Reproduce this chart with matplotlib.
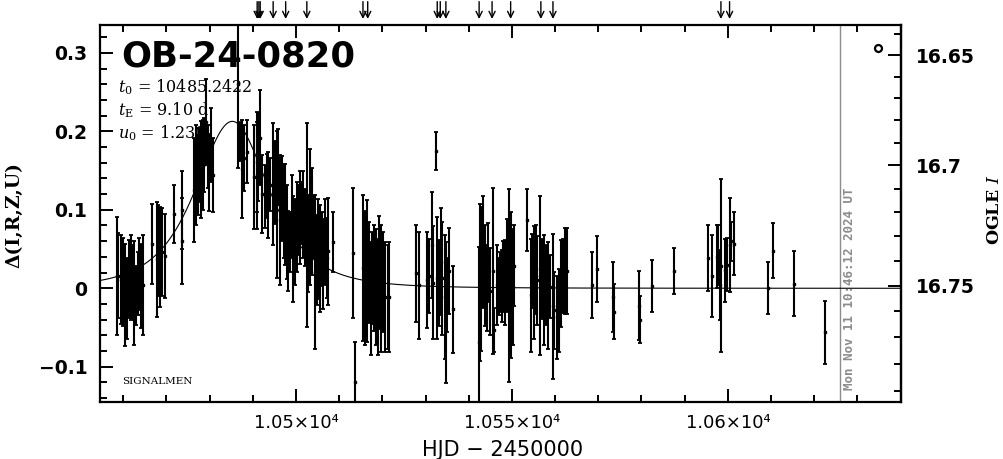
import numpy as np
import matplotlib
matplotlib.use('Agg')
import matplotlib.pyplot as plt
from matplotlib.ticker import MultipleLocator, FuncFormatter, FixedLocator

plt.rcParams['mathtext.fontset'] = 'dejavuserif'

# ---- model / header values ----
event_name = 'OB-24-0820'
t0 = 10485.2422
tE = 9.10
u0 = 1.23
I_base = 16.751
f_s = 0.31
now_hjd = 10626.0
now_text = 'Mon Nov 11 10:46:12 2024 UT'

# ---- photometry (HJD-2450000, delta mag, error) ----
hjd = [10458.5, 10458.8, 10459.4, 10459.9, 10460.4, 10460.8, 10461.4, 10461.8, 10462.2, 10462.5,
       10462.9, 10463.3, 10463.7, 10464.1, 10464.6,
       10466.6, 10467.7, 10468.1, 10468.5, 10468.9, 10469.7,
       10471.7, 10473.5, 10473.7,
       10476.4, 10476.8, 10477.2, 10477.6, 10478.0, 10478.4, 10478.8, 10479.2, 10479.5, 10479.9,
       10480.3, 10480.7,
       10486.5, 10487.0, 10487.4, 10488.0, 10488.6, 10490.3, 10490.9, 10491.0, 10491.3, 10491.7,
       10492.1, 10492.7, 10493.2, 10493.6, 10494.0, 10494.7, 10495.1, 10495.5, 10495.9, 10496.3,
       10496.7, 10497.1, 10497.5, 10497.8, 10498.2, 10498.6, 10499.0, 10499.4, 10499.8, 10500.2,
       10500.5, 10500.9, 10501.3, 10501.7, 10502.1, 10502.5, 10502.8, 10503.2, 10503.6, 10504.0,
       10504.4, 10504.8, 10505.2, 10505.6, 10506.0, 10506.3, 10506.7, 10507.1, 10507.5, 10508.6,
       10513.3, 10513.7,
       10515.5, 10516.0, 10516.5, 10516.9, 10517.4, 10517.7, 10518.1, 10518.5, 10518.9, 10519.3,
       10519.7, 10520.2, 10520.6, 10521.2, 10521.6,
       10527.8, 10528.5, 10530.4, 10530.8, 10531.4, 10531.8, 10532.4, 10532.6, 10533.0, 10533.6,
       10533.9, 10534.4, 10534.7, 10535.0, 10535.5, 10536.4,
       10542.4, 10542.5, 10542.8, 10543.4, 10543.8, 10544.2, 10544.5, 10544.9, 10545.6, 10545.9,
       10546.5, 10546.9, 10547.3, 10547.7, 10548.0, 10548.4, 10548.8, 10549.4, 10549.8, 10550.2,
       10550.5,
       10553.6, 10554.4, 10554.7, 10555.1, 10555.5, 10555.9, 10556.5, 10556.9, 10557.5, 10557.9,
       10558.4, 10558.8, 10559.4, 10559.8, 10560.4, 10560.8, 10561.3, 10561.8, 10562.3, 10562.7,
       10568.6, 10569.7, 10573.5, 10573.6, 10579.5, 10579.6, 10582.5, 10587.5,
       10595.5, 10596.4, 10597.5, 10597.8, 10598.2, 10598.5, 10599.4, 10599.8, 10600.4, 10600.8,
       10601.5,
       10609.4, 10610.4, 10615.4, 10622.4]

dmag = [0.016, 0.016, 0.011, 0.008, -0.009, -0.013, 0.012, 0.014, 0.008, -0.006,
        -0.009, 0.006, 0.018, 0.003, 0.004,
        0.057, 0.037, 0.048, 0.040, 0.046, 0.041,
        0.095, 0.100, 0.060,
        0.125, 0.144, 0.144, 0.157, 0.151, 0.157, 0.170, 0.212, 0.168, 0.147,
        0.183, 0.144,
        0.260, 0.187, 0.152, 0.166, 0.174, 0.142, 0.161, 0.144, 0.167, 0.192,
        0.120, 0.117, 0.130, 0.119, 0.132, 0.133, 0.135, 0.107, 0.155, 0.087,
        0.114, 0.098, 0.094, 0.072, 0.047, 0.059, 0.091, 0.050, 0.059, 0.078,
        0.087, 0.090, 0.096, 0.094, 0.078, 0.081, 0.057, 0.091, 0.085, 0.078,
        0.021, 0.036, 0.050, 0.038, 0.050, 0.031, 0.059, 0.038, 0.047, 0.059,
        0.045, -0.120,
        0.026, 0.013, 0.022, 0.020, -0.013, 0.013, 0.013, 0.002, -0.011, 0.020,
        0.000, 0.008, -0.011, -0.011, -0.011,
        0.019, 0.004, 0.011, 0.016, 0.055, 0.007, 0.175, 0.013, 0.007, 0.034,
        0.013, -0.011, -0.031, -0.009, 0.022, -0.027,
        -0.068, 0.007, 0.012, 0.046, 0.016, 0.000, 0.033, -0.004, 0.022, -0.053,
        0.004, 0.002, 0.008, 0.003, 0.015, 0.007, 0.029, 0.004, 0.004, 0.002,
        0.029,
        0.087, -0.009, 0.022, 0.007, 0.024, 0.010, 0.016, 0.012, -0.002, 0.004,
        -0.009, 0.002, -0.023, -0.028, -0.037, -0.028, 0.006, 0.016, 0.022, 0.022,
        0.004, 0.025, -0.011, -0.030, -0.022, -0.040, 0.003, 0.022,
        0.038, 0.016, 0.040, 0.042, 0.004, 0.029, 0.023, 0.030, 0.055, 0.060,
        0.057,
        0.000, 0.048, 0.006, -0.056]

derr = [0.075, 0.054, 0.057, 0.056, 0.065, 0.051, 0.050, 0.054, 0.047, 0.066,
        0.038, 0.040, 0.046, 0.054, 0.064,
        0.051, 0.073, 0.058, 0.064, 0.056, 0.054,
        0.037, 0.050, 0.055,
        0.066, 0.064, 0.051, 0.047, 0.062, 0.057, 0.047, 0.055, 0.040, 0.049,
        0.047, 0.047,
        0.107, 0.025, 0.062, 0.042, 0.040, 0.066, 0.064, 0.068, 0.056, 0.060,
        0.050, 0.040, 0.041, 0.055, 0.034, 0.078, 0.053, 0.094, 0.048, 0.083,
        0.054, 0.060, 0.064, 0.060, 0.051, 0.038, 0.053, 0.068, 0.055, 0.057,
        0.045, 0.059, 0.040, 0.055, 0.049, 0.130, 0.062, 0.087, 0.068, 0.040,
        0.098, 0.057, 0.064, 0.068, 0.047, 0.057, 0.055, 0.051, 0.068, 0.038,
        0.083, 0.052,
        0.093, 0.085, 0.091, 0.064, 0.072, 0.059, 0.068, 0.074, 0.074, 0.072,
        0.081, 0.064, 0.070, 0.066, 0.070,
        0.062, 0.068, 0.061, 0.047, 0.068, 0.072, 0.024, 0.078, 0.055, 0.068,
        0.072, 0.079, 0.090, 0.047, 0.055, 0.056,
        0.120, 0.100, 0.092, 0.071, 0.064, 0.055, 0.050, 0.055, 0.106, 0.028,
        0.051, 0.036, 0.038, 0.046, 0.045, 0.054, 0.059, 0.123, 0.093, 0.074,
        0.051,
        0.040, 0.072, 0.047, 0.072, 0.057, 0.057, 0.101, 0.051, 0.070, 0.051,
        0.068, 0.040, 0.092, 0.049, 0.053, 0.053, 0.055, 0.047, 0.055, 0.055,
        0.042, 0.042, 0.045, 0.035, 0.044, 0.030, 0.033, 0.029,
        0.042, 0.052, 0.040, 0.038, 0.045, 0.110, 0.040, 0.034, 0.060, 0.025,
        0.040,
        0.033, 0.035, 0.041, 0.040]

arrow_hjd = [10491.0, 10491.4, 10491.7, 10494.7, 10497.6, 10502.5, 10515.5, 10516.6,
             10532.7, 10533.4, 10534.7, 10542.4, 10545.4, 10549.7, 10556.7, 10559.5,
             10598.4, 10600.4]

ogle_major = [16.65, 16.70, 16.75]
ogle_minor = [16.64, 16.66, 16.67, 16.68, 16.69, 16.71, 16.72, 16.73, 16.74,
              16.76, 16.77, 16.78, 16.79]
ogle_labels = ['16.65', '16.7', '16.75']

x_range = (10454.6, 10640.1)
y_range = (-0.1445, 0.3354)

# ---- figure ----
fig = plt.figure(figsize=(10.04, 4.59), dpi=100)
ax = fig.add_axes([0.0996, 0.1248, 0.7978, 0.8207])
ax.set_xlim(*x_range)
ax.set_ylim(*y_range)

# header text (drawn under the data)
ax.text(0.027, 0.889, event_name, transform=ax.transAxes, fontsize=25.5,
        fontweight='bold', family='DejaVu Sans', va='baseline', ha='left', zorder=1)
ax.text(0.0225, 0.822, r'$t_0$ = %.4f' % t0, transform=ax.transAxes, fontsize=11.5,
        family='DejaVu Serif', va='baseline', ha='left', zorder=1)
ax.text(0.0225, 0.761, r'$t_{\rm E}$ = %.2f d' % tE, transform=ax.transAxes, fontsize=11.5,
        family='DejaVu Serif', va='baseline', ha='left', zorder=1)
ax.text(0.0225, 0.700, r'$u_0$ = %.3f' % u0, transform=ax.transAxes, fontsize=11.5,
        family='DejaVu Serif', va='baseline', ha='left', zorder=1)
ax.text(0.027, 0.046, 'SIGNALMEN', transform=ax.transAxes, fontsize=7.5,
        family='DejaVu Serif', va='baseline', ha='left', zorder=1)

# current time
ax.axvline(now_hjd, color='#8c8c8c', lw=1.0, zorder=1)
ax.text(0.936, 0.031, now_text, transform=ax.transAxes, rotation=90,
        ha='center', va='bottom', fontsize=9, family='DejaVu Sans Mono',
        fontweight='bold', color='#8c8c8c', zorder=1)

# model curve
tt = np.linspace(x_range[0], x_range[1], 3000)
uu = np.sqrt(u0 ** 2 + ((tt - t0) / tE) ** 2)
AA = (uu ** 2 + 2) / (uu * np.sqrt(uu ** 2 + 4))
ax.plot(tt, 2.5 * np.log10(AA), color='black', lw=0.8, zorder=2)

# data
ax.errorbar(hjd, dmag, yerr=derr, fmt='s', ms=1.8, color='black', ecolor='black',
            elinewidth=1.5, capsize=1.6, capthick=1.3, zorder=3)

# OGLE symbol
ax.plot([0.971], [0.938], 'o', mfc='none', mec='black', ms=5, mew=1.6,
        transform=ax.transAxes, clip_on=False)

# arrows at the top
for t in arrow_hjd:
    ax.annotate('', xy=(t, 1.016), xytext=(t, 1.062),
                xycoords=('data', 'axes fraction'), textcoords=('data', 'axes fraction'),
                arrowprops=dict(arrowstyle='->', lw=1.0, color='black',
                                mutation_scale=11, shrinkA=0, shrinkB=0),
                annotation_clip=False)

# axes styling
for s in ax.spines.values():
    s.set_linewidth(1.6)

ax.xaxis.set_major_locator(MultipleLocator(50))
ax.xaxis.set_minor_locator(MultipleLocator(10))
ax.xaxis.set_major_formatter(FuncFormatter(
    lambda v, p: ('%g' % (v / 1e4)) + '\u00d710\u2074'))
ax.tick_params(axis='x', which='both', direction='in', top=True, bottom=True, width=1.4)
ax.tick_params(axis='x', which='major', length=9.5, labelsize=13, pad=9)
ax.tick_params(axis='x', which='minor', length=4.7)

ax.yaxis.set_major_locator(MultipleLocator(0.1))
ax.yaxis.set_minor_locator(MultipleLocator(0.02))


def yfmt(v, p):
    v = round(v, 4) + 0.0
    return ('%g' % v).replace('-', '\u2212')


ax.yaxis.set_major_formatter(FuncFormatter(yfmt))
ax.tick_params(axis='y', which='both', direction='in', left=True, right=False, width=1.4)
ax.tick_params(axis='y', which='major', length=9.5, labelsize=13.5, pad=9)
ax.tick_params(axis='y', which='minor', length=4.7)
for lab in ax.get_yticklabels():
    lab.set_fontweight('bold')


def d2i(d):
    d = np.asarray(d, dtype=float)
    return I_base - 2.5 * np.log10(f_s * (10 ** (0.4 * d) - 1) + 1)


def i2d(I):
    I = np.asarray(I, dtype=float)
    arg = (10 ** (-0.4 * (I - I_base)) - 1) / f_s + 1
    arg = np.clip(arg, 1e-6, None)
    return 2.5 * np.log10(arg)


sec = ax.secondary_yaxis('right', functions=(d2i, i2d))
sec.spines['right'].set_linewidth(1.6)
sec.yaxis.set_major_locator(FixedLocator(ogle_major))
sec.yaxis.set_minor_locator(FixedLocator(ogle_minor))
sec.set_yticks(ogle_major, ogle_labels)
sec.yaxis.get_offset_text().set_visible(False)
sec.tick_params(which='both', direction='in', width=1.4)
sec.tick_params(which='major', length=9.5, labelsize=13.5, pad=11)
sec.tick_params(which='minor', length=4.7)
for lab in sec.get_yticklabels():
    lab.set_fontweight('bold')

# axis labels
ax.text(-0.107, 0.496, '\u0394(I,R,Z,U)', transform=ax.transAxes, rotation=90,
        ha='center', va='center', fontsize=13.5, fontweight='bold', family='DejaVu Serif')
ax.text(1.117, 0.509, r'OGLE $I$', transform=ax.transAxes, rotation=90,
        ha='center', va='center', fontsize=12.5, fontweight='bold', family='DejaVu Serif')
ax.text(0.503, -0.128, 'HJD \u2212 2450000', transform=ax.transAxes,
        ha='center', va='center', fontsize=15, family='DejaVu Sans')

fig.savefig('out.png', dpi=100)
